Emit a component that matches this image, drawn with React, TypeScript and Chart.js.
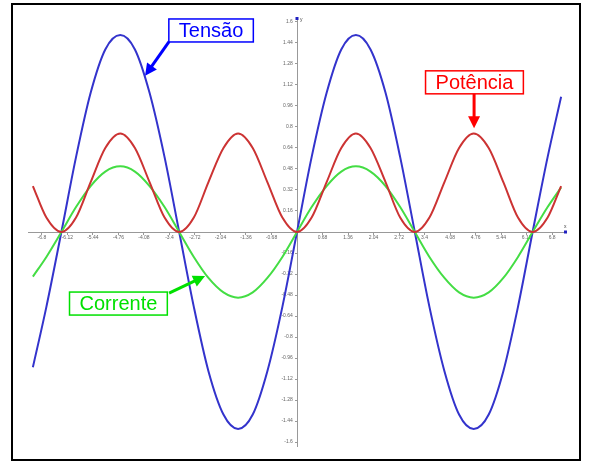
import React, { useEffect, useRef } from "react";
import { Chart, registerables } from "chart.js";

Chart.register(...registerables);

// angle samples (rad), read at every pi/8 along the x axis
const xValues = [
  -7.04, -6.68, -6.28, -5.89, -5.5, -5.11, -4.71, -4.32, -3.93, -3.53, -3.14,
  -2.75, -2.36, -1.96, -1.57, -1.18, -0.79, -0.39, 0, 0.39, 0.79, 1.18, 1.57,
  1.96, 2.36, 2.75, 3.14, 3.53, 3.93, 4.32, 4.71, 5.11, 5.5, 5.89, 6.28, 6.68,
  7.04,
];

const tensao = [
  -1.03, -0.57, 0, 0.57, 1.06, 1.39, 1.5, 1.39, 1.06, 0.57, 0, -0.57, -1.06,
  -1.39, -1.5, -1.39, -1.06, -0.57, 0, 0.57, 1.06, 1.39, 1.5, 1.39, 1.06, 0.57,
  0, -0.57, -1.06, -1.39, -1.5, -1.39, -1.06, -0.57, 0, 0.57, 1.03,
];

const corrente = [
  -0.34, -0.19, 0, 0.19, 0.35, 0.46, 0.5, 0.46, 0.35, 0.19, 0, -0.19, -0.35,
  -0.46, -0.5, -0.46, -0.35, -0.19, 0, 0.19, 0.35, 0.46, 0.5, 0.46, 0.35, 0.19,
  0, -0.19, -0.35, -0.46, -0.5, -0.46, -0.35, -0.19, 0, 0.19, 0.34,
];

const potencia = [
  0.35, 0.11, 0, 0.11, 0.38, 0.64, 0.75, 0.64, 0.38, 0.11, 0, 0.11, 0.38, 0.64,
  0.75, 0.64, 0.38, 0.11, 0, 0.11, 0.38, 0.64, 0.75, 0.64, 0.38, 0.11, 0, 0.11,
  0.38, 0.64, 0.75, 0.64, 0.38, 0.11, 0, 0.11, 0.35,
];

const xTicks = [
  -6.8, -6.12, -5.44, -4.76, -4.08, -3.4, -2.72, -2.04, -1.36, -0.68, 0.68,
  1.36, 2.04, 2.72, 3.4, 4.08, 4.76, 5.44, 6.12, 6.8,
];
const yTicks = [
  -1.6, -1.44, -1.28, -1.12, -0.96, -0.8, -0.64, -0.48, -0.32, -0.16, 0.16,
  0.32, 0.48, 0.64, 0.8, 0.96, 1.12, 1.28, 1.44, 1.6,
];

// callout labels: text, box centre and arrow (from -> tip), all in data units
const calloutText = ["Tensão", "Potência", "Corrente"];
const calloutColor = ["#0000ff", "#ff0000", "#00e000"];
const calloutBox = [
  [-2.29, 1.535],
  [4.73, 1.14],
  [-4.76, -0.545],
];
const calloutArrow = [
  [-3.41, 1.45, -4.05, 1.19],
  [4.72, 1.06, 4.72, 0.79],
  [-3.41, -0.465, -2.45, -0.335],
];

const calloutPlugin = {
  id: "callouts",
  afterDraw(chart: any) {
    const ctx = chart.ctx;
    const sx = chart.scales.x;
    const sy = chart.scales.y;
    ctx.save();

    // axis ends
    const x0 = sx.getPixelForValue(0);
    const y0 = sy.getPixelForValue(0);
    ctx.fillStyle = "#2020c0";
    ctx.fillRect(chart.chartArea.right - 2, y0 - 1.5, 3, 3);
    ctx.fillRect(x0 - 1.5, chart.chartArea.top - 1, 3, 3);
    ctx.fillStyle = "#444";
    ctx.font = "5px 'Liberation Sans', Arial, sans-serif";
    ctx.textAlign = "left";
    ctx.textBaseline = "bottom";
    ctx.fillText("x", chart.chartArea.right - 2, y0 - 3);
    ctx.fillText("y", x0 + 3, chart.chartArea.top + 4);

    ctx.font = "20px 'Liberation Sans', Arial, sans-serif";
    calloutText.forEach((text, i) => {
      const color = calloutColor[i];
      const [fx, fy, tx, ty] = calloutArrow[i];
      const ax = sx.getPixelForValue(fx);
      const ay = sy.getPixelForValue(fy);
      const bx = sx.getPixelForValue(tx);
      const by = sy.getPixelForValue(ty);
      const ang = Math.atan2(by - ay, bx - ax);
      const head = 12;
      ctx.strokeStyle = color;
      ctx.fillStyle = color;
      ctx.lineWidth = 3;
      ctx.beginPath();
      ctx.moveTo(ax, ay);
      ctx.lineTo(bx - Math.cos(ang) * head * 0.8, by - Math.sin(ang) * head * 0.8);
      ctx.stroke();
      ctx.beginPath();
      ctx.moveTo(bx, by);
      ctx.lineTo(
        bx - head * Math.cos(ang) + 6 * Math.sin(ang),
        by - head * Math.sin(ang) - 6 * Math.cos(ang)
      );
      ctx.lineTo(
        bx - head * Math.cos(ang) - 6 * Math.sin(ang),
        by - head * Math.sin(ang) + 6 * Math.cos(ang)
      );
      ctx.closePath();
      ctx.fill();

      const cx = sx.getPixelForValue(calloutBox[i][0]);
      const cy = sy.getPixelForValue(calloutBox[i][1]);
      const w = ctx.measureText(text).width + 20;
      const h = 23;
      ctx.fillStyle = "#ffffff";
      ctx.fillRect(cx - w / 2, cy - h / 2, w, h);
      ctx.lineWidth = 1.5;
      ctx.strokeRect(cx - w / 2, cy - h / 2, w, h);
      ctx.fillStyle = color;
      ctx.textAlign = "center";
      ctx.textBaseline = "middle";
      ctx.fillText(text, cx, cy + 1);
    });
    ctx.restore();
  },
};

const tickFont = { size: 5, family: "'Liberation Sans', Arial, sans-serif" };

const App: React.FC = () => {
  const chartRef = useRef<HTMLCanvasElement>(null);
  const chartInstance = useRef<Chart | null>(null);

  useEffect(() => {
    if (chartRef.current) {
      if (chartInstance.current) {
        chartInstance.current.destroy();
      }
      const ctx = chartRef.current.getContext("2d");
      if (ctx) {
        const series = (values: number[]) =>
          xValues.map((x, i) => ({ x, y: values[i] }));
        chartInstance.current = new Chart(ctx, {
          type: "line",
          data: {
            datasets: [
              {
                label: "Potência",
                data: series(potencia),
                borderColor: "#cc3333",
                borderWidth: 2,
                pointRadius: 0,
                cubicInterpolationMode: "monotone",
              },
              {
                label: "Corrente",
                data: series(corrente),
                borderColor: "#44dd44",
                borderWidth: 2,
                pointRadius: 0,
                cubicInterpolationMode: "monotone",
              },
              {
                label: "Tensão",
                data: series(tensao),
                borderColor: "#3333cc",
                borderWidth: 2,
                pointRadius: 0,
                cubicInterpolationMode: "monotone",
              },
            ],
          },
          options: {
            animation: false,
            responsive: true,
            maintainAspectRatio: false,
            layout: {
              padding: { left: 28, right: 26, top: 18, bottom: 20 },
            },
            plugins: {
              legend: { display: false },
              tooltip: { enabled: false },
            },
            scales: {
              x: {
                type: "linear",
                min: -7.17,
                max: 7.17,
                position: { y: 0 },
                afterBuildTicks: (scale: any) => {
                  scale.ticks = xTicks.map((value) => ({ value }));
                },
                afterFit: (scale: any) => {
                  scale.height = 0;
                },
                grid: {
                  drawOnChartArea: false,
                  color: "#999999",
                  tickLength: 2,
                },
                border: { color: "#999999", width: 1 },
                ticks: {
                  autoSkip: false,
                  maxRotation: 0,
                  padding: 1,
                  color: "#666666",
                  font: tickFont,
                  callback: (v: any) => String(v),
                },
              },
              y: {
                type: "linear",
                min: -1.63,
                max: 1.63,
                position: { x: 0 },
                afterBuildTicks: (scale: any) => {
                  scale.ticks = yTicks.map((value) => ({ value }));
                },
                afterFit: (scale: any) => {
                  scale.width = 0;
                },
                grid: {
                  drawOnChartArea: false,
                  color: "#999999",
                  tickLength: 2,
                },
                border: { color: "#999999", width: 1 },
                ticks: {
                  autoSkip: false,
                  padding: 1,
                  color: "#666666",
                  font: tickFont,
                  callback: (v: any) => String(v) + "   ",
                },
              },
            },
          },
          plugins: [calloutPlugin],
        } as any);
      }
    }

    return () => {
      if (chartInstance.current) {
        chartInstance.current.destroy();
        chartInstance.current = null;
      }
    };
  }, []);

  return (
    <div
      style={{
        position: "absolute",
        left: 0,
        top: 0,
        width: "592px",
        height: "466px",
        background: "#ffffff",
      }}
    >
      <canvas ref={chartRef}></canvas>
      <div
        style={{
          position: "absolute",
          left: "11px",
          top: "3px",
          width: "570px",
          height: "458px",
          border: "2px solid #000000",
          boxSizing: "border-box",
          pointerEvents: "none",
        }}
      />
    </div>
  );
};

export default App;
